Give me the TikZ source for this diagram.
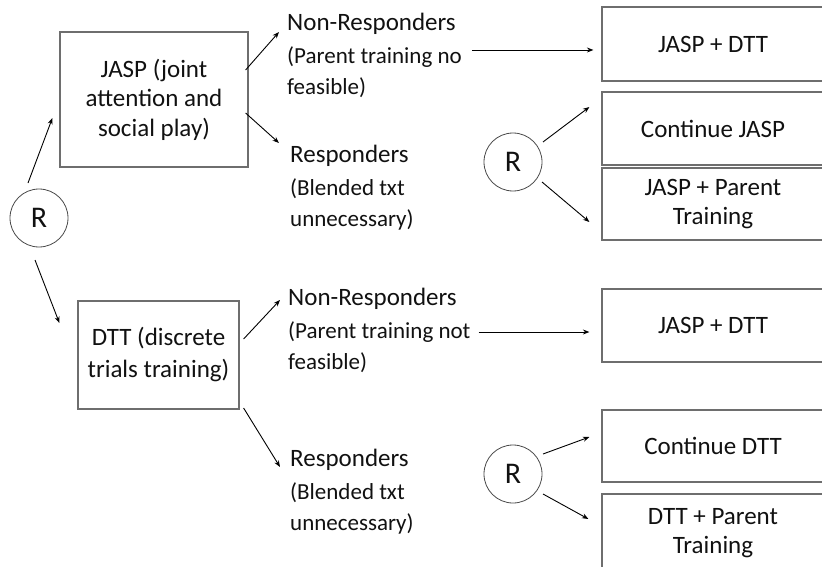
\documentclass[tikz,border=0pt]{standalone}
\usepackage{fontspec}
\setmainfont{Carlito}
\usetikzlibrary{arrows.meta}
\definecolor{boxgray}{HTML}{6E6E6E}
\definecolor{circgray}{HTML}{4A4A4A}
\definecolor{ink}{HTML}{111111}
\begin{document}
\begin{tikzpicture}[x=1pt,y=-1pt,
  every node/.style={text=ink},
  box/.style={draw=boxgray, line width=1.2pt, rectangle, inner sep=0pt, align=center},
  wide/.style={box, minimum width=222pt},
  rnode/.style={draw=circgray, line width=0.8pt, circle, minimum size=58pt, inner sep=0pt,
    font=\fontsize{30}{34}\selectfont},
  head/.style={anchor=base west, inner sep=0pt, font=\fontsize{25}{30}\selectfont},
  sub/.style={anchor=base west, inner sep=0pt, font=\fontsize{23}{30}\selectfont},
  arr/.style={-{Stealth[length=6.5pt,width=5pt]}, line width=0.9pt, draw=black}
]
\useasboundingbox (0,0) rectangle (822,567);
\clip (0,0) rectangle (822,567);

% randomisation points
\node[rnode] (R1) at (39,218) {R};
\node[rnode] (R2) at (513,162) {R};
\node[rnode] (R3) at (513,474) {R};

% first-stage treatments
\node[box, minimum width=188pt, minimum height=135pt,
      font=\fontsize{25}{29.5}\selectfont] (jasp) at (154,99.5)
  {JASP (joint\\attention and\\social play)};
\node[box, minimum width=161pt, minimum height=108pt,
      font=\fontsize{25}{32}\selectfont] (dtt) at (158.5,355)
  {DTT (discrete\\trials training)};

% response groups after JASP
\node[head] (nr1t) at (287,31) {Non-Responders};
\node[sub]  (nr1b) at (287,64) {(Parent training no};
\node[sub]  (nr1c) at (287,95) {feasible)};
\node[head] (r1t) at (290,162) {Responders};
\node[sub]  (r1b) at (290,195) {(Blended txt};
\node[sub]  (r1c) at (290,226) {unnecessary)};

% response groups after DTT
\node[head] (nr2t) at (288,305) {Non-Responders};
\node[sub]  (nr2b) at (288,338) {(Parent training not};
\node[sub]  (nr2c) at (288,369) {feasible)};
\node[head] (r2t) at (290,466) {Responders};
\node[sub]  (r2b) at (290,499) {(Blended txt};
\node[sub]  (r2c) at (290,530) {unnecessary)};

% second-stage treatments
\node[wide, minimum height=74pt, font=\fontsize{25}{30}\selectfont] (a1) at (713,44) {JASP + DTT};
\node[wide, minimum height=73pt, font=\fontsize{25}{30}\selectfont] (a2) at (713,128.5) {Continue JASP};
\node[wide, minimum height=72pt, font=\fontsize{25}{29}\selectfont] (a3) at (713,204) {JASP + Parent\\Training};
\node[wide, minimum height=73pt, font=\fontsize{25}{30}\selectfont] (b1) at (713,325.5) {JASP + DTT};
\node[wide, minimum height=72pt, font=\fontsize{25}{30}\selectfont] (b2) at (713,446) {Continue DTT};
\node[wide, minimum height=78pt, font=\fontsize{25}{29}\selectfont] (b3) at (713,533) {DTT + Parent\\Training};

% connectors
\draw[arr] ([shift={(-11,-35)}]R1.center) -- ([shift={(-7,18.5)}]jasp.west);
\draw[arr] ([shift={(-4,42)}]R1.center) -- ([shift={(-18,-32)}]dtt.west);

\draw[arr] ([shift={(-3,-29.5)}]jasp.east) -- ([shift={(-8,1)}]nr1t.base west);
\draw[arr] ([shift={(-3,13.5)}]jasp.east) -- ([shift={(-11,-19)}]r1t.base west);
\draw[arr] ([shift={(4,-16)}]dtt.east) -- ([shift={(-8,-5)}]nr2t.base west);
\draw[arr] ([shift={(4,53)}]dtt.east) -- ([shift={(-10,1)}]r2t.base west);

\draw[arr] ([shift={(10,-14)}]nr1b.base east) -- ([shift={(-8,6)}]a1.west);
\draw[arr] ([shift={(8,-6)}]nr2b.base east) -- ([shift={(-12,6.5)}]b1.west);

\draw[arr] ([shift={(30,-20)}]R2.center) -- ([shift={(-12,-21.5)}]a2.west);
\draw[arr] ([shift={(29,20)}]R2.center) -- ([shift={(-12,18)}]a3.west);
\draw[arr] ([shift={(30,-20)}]R3.center) -- ([shift={(-12,-9)}]b2.west);
\draw[arr] ([shift={(30,20)}]R3.center) -- ([shift={(-13,-14)}]b3.west);
\end{tikzpicture}
\end{document}
